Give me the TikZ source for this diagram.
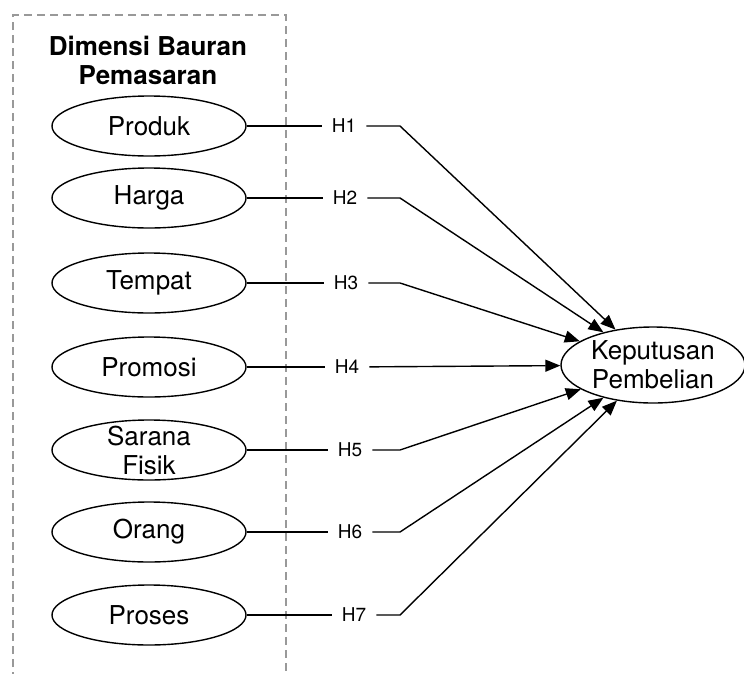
\documentclass[tikz,border=0pt]{standalone}
\usepackage{fontspec}
\setmainfont{TeX Gyre Heros}
\usepackage{tikz}
\usetikzlibrary{positioning}
\usetikzlibrary{arrows.meta}
\usetikzlibrary{shapes.geometric}

\begin{document}
\begin{tikzpicture}[x=1pt, y=-1pt]
        \tikzstyle{dimensi}=[ellipse, draw=black, line width=1.4pt, minimum width=194pt,
            minimum height=60pt, inner sep=0pt]
        \tikzstyle{teks}=[align=center, inner sep=0pt, font=\fontsize{26}{29}\selectfont]
        \tikzstyle{hyp}=[inner xsep=10pt, inner ysep=0pt, font=\fontsize{19}{20}\selectfont]
        \tikzstyle{garis}=[line width=1.4pt]
        \tikzstyle{panah}=[garis, -{Triangle[length=15pt, width=12pt]}]

            \useasboundingbox (0,0) rectangle (744,673);

            % kotak dimensi (terpotong di bawah)
            \draw[gray!80, line width=1.2pt, dash pattern=on 8pt off 5pt]
            (13,680) -- (13,15) -- (286,15) -- (286,680);

            \node[teks, font=\bfseries\fontsize{26}{29}\selectfont] (judul)
            at (148,60) {Dimensi Bauran\\Pemasaran};

            \node[ellipse, draw=black, line width=1.4pt, minimum width=184pt,
            minimum height=76pt, inner sep=0pt] (kp) at (653,365) {};
            \node[teks] (tkp) at (kp) {Keputusan\\Pembelian};

            \foreach \t/\nama/\y/\hx in {1/Produk/126/344, 2/Harga/198/345,
                3/Tempat/283/346, 4/Promosi/367/347, 5/Sarana\\Fisik/450/350,
                6/Orang/532/350, 7/Proses/615/354}
            {
                \node[dimensi] (d\t) at (149,\y) {};
                \node[teks] (t\t) at (d\t) {\nama};
                \node[hyp] (h\t) at (\hx,\y) {H\t};
                \coordinate (b\t) at (400,\y);
                \draw[garis] (d\t) -- (h\t);
            }

            \foreach \t in {1, 2, 3, 5, 6, 7}
            {
                \draw[panah] (h\t) -- (b\t) -- (kp);
            }
            \draw[panah] (h4) -- (kp);
    \end{tikzpicture}
\end{document}
